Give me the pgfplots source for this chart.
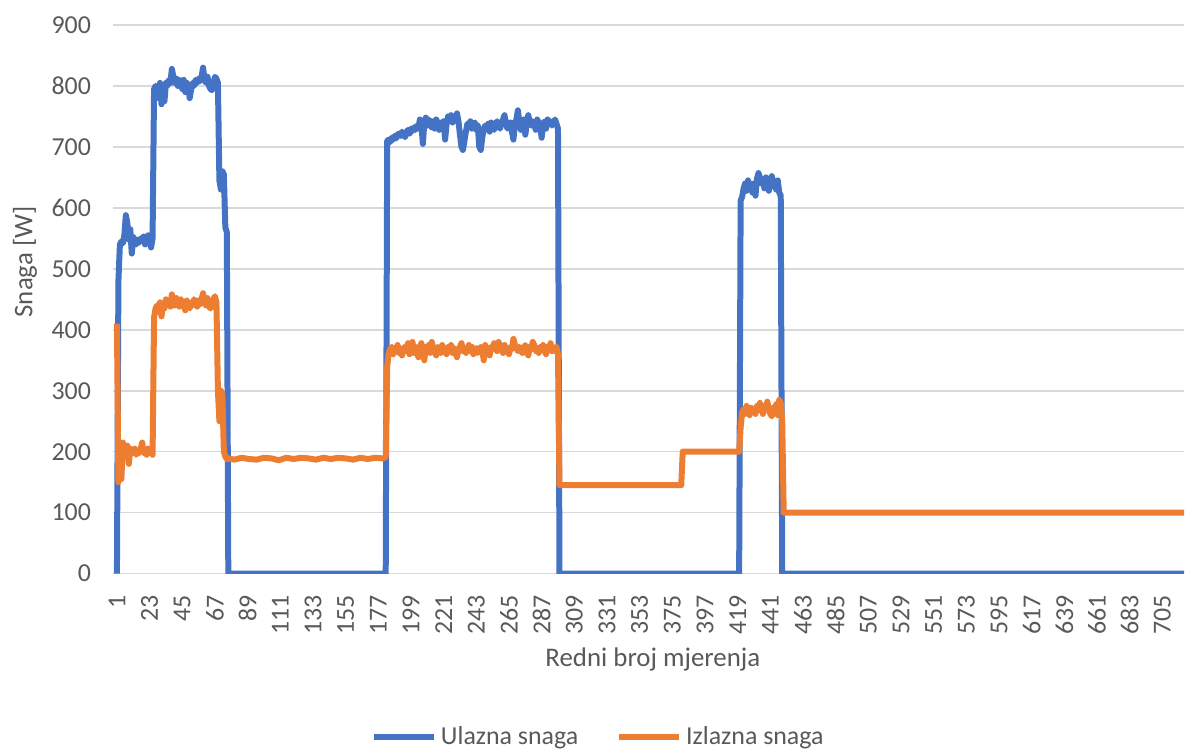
\documentclass[border=0pt]{standalone}
\usepackage{fontspec}
\setmainfont{Carlito}
\usepackage{pgfplots}
\pgfplotsset{compat=1.18}

\definecolor{ulazblue}{RGB}{68,114,196}
\definecolor{izlazorange}{RGB}{237,125,49}
\definecolor{gridgray}{RGB}{217,217,217}
\definecolor{textgray}{RGB}{89,89,89}

\begin{document}
\begin{tikzpicture}
\begin{axis}[
  scale only axis,
  width=536bp, height=274.5bp,
  xmin=-1.7, xmax=719.7,
  ymin=0, ymax=900,
  xtick={1,23,...,705},
  ytick={0,100,...,900},
  ymajorgrids,
  grid style={gridgray, line width=0.8bp},
  axis line style={draw=none},
  major tick length=0pt,
  /pgf/number format/assume math mode=true,
  tick label style={font=\fontsize{13}{15}\selectfont, text=textgray},
  yticklabel style={xshift=-7.5bp},
  xticklabel style={rotate=90, anchor=east, xshift=-7.5bp},
  xlabel={Redni broj mjerenja},
  ylabel={Snaga [W]},
  label style={font=\fontsize{13.5}{16}\selectfont, text=textgray},
  xlabel style={at={(axis description cs:0.504,-0.157)}, anchor=center},
  ylabel style={at={(axis description cs:-0.082,0.568)}, anchor=center},
  legend columns=2,
  legend style={at={(axis description cs:0.454,-0.297)}, anchor=center,
    draw=none, fill=none, font=\fontsize{13}{15}\selectfont, text=textgray,
    /tikz/every even column/.append style={column sep=17bp}},
  legend image code/.code={\draw[#1] (0bp,0bp) -- (30bp,0bp);},
  every axis plot/.append style={line width=3bp, line join=round, mark=none},
]
% Ulazna snaga
\addplot[ulazblue] table[row sep=\\] {
x y\\
1 0\\ 2 480\\ 3 540\\ 4 545\\ 5 542\\ 6 555\\ 7 588\\ 8 575\\ 9 548\\ 10 565\\
11 525\\ 12 552\\ 13 545\\ 14 540\\ 15 548\\ 16 543\\ 17 550\\ 18 545\\ 19 553\\ 20 540\\
21 548\\ 22 555\\ 23 545\\ 24 535\\ 25 550\\ 26 795\\ 27 800\\ 28 795\\ 29 780\\ 30 805\\
31 770\\ 32 790\\ 33 775\\ 34 805\\ 35 800\\ 36 810\\ 37 805\\ 38 828\\ 39 815\\ 40 805\\
41 812\\ 42 800\\ 43 810\\ 44 808\\ 45 795\\ 46 810\\ 47 790\\ 48 805\\ 49 800\\ 50 780\\
51 795\\ 52 805\\ 53 800\\ 54 810\\ 55 805\\ 56 812\\ 57 808\\ 58 815\\ 59 830\\ 60 810\\
61 805\\ 62 815\\ 63 800\\ 64 795\\ 65 793\\ 66 805\\ 67 815\\ 68 812\\ 69 805\\ 70 645\\
71 630\\ 72 660\\ 73 655\\ 74 568\\ 75 560\\ 76 0\\ 182 0\\
183 710\\ 184 712\\ 185 708\\ 186 715\\ 187 712\\ 188 718\\ 189 714\\ 190 720\\
191 722\\ 192 718\\ 193 725\\ 194 720\\ 195 716\\ 196 724\\ 197 728\\ 198 722\\ 199 730\\
200 726\\ 201 732\\ 202 728\\ 203 735\\ 204 730\\ 205 745\\ 206 738\\ 207 705\\
208 740\\ 209 748\\ 210 735\\ 211 745\\ 212 740\\ 213 732\\
214 742\\ 215 730\\ 216 745\\ 217 738\\ 218 728\\ 219 740\\ 220 735\\ 221 742\\ 222 712\\
223 738\\ 224 750\\ 225 745\\ 226 752\\ 227 740\\ 228 748\\ 229 745\\ 230 755\\ 231 742\\
232 720\\ 233 700\\ 234 695\\ 235 710\\ 236 725\\
237 738\\ 238 735\\ 239 742\\ 240 730\\ 241 738\\ 242 740\\ 243 728\\ 244 735\\
245 700\\ 246 695\\ 247 715\\ 248 730\\
249 735\\ 250 730\\ 251 738\\ 252 725\\ 253 740\\ 254 732\\ 255 728\\ 256 738\\ 257 742\\ 258 735\\ 259 730\\ 260 740\\
261 745\\ 262 752\\ 263 738\\ 264 730\\
265 735\\ 266 740\\ 267 725\\ 268 712\\ 269 738\\ 270 745\\
271 760\\ 272 740\\ 273 728\\ 274 735\\ 275 745\\
276 720\\ 277 738\\ 278 752\\ 279 740\\
280 735\\ 281 742\\ 282 738\\ 283 728\\ 284 745\\ 285 740\\ 286 735\\ 287 715\\ 288 738\\ 289 742\\ 290 730\\
291 745\\ 292 738\\ 293 742\\ 294 735\\ 295 740\\ 296 745\\ 297 738\\ 298 730\\
299 0\\ 420 0\\
421 612\\ 422 618\\ 423 632\\ 424 640\\ 425 628\\ 426 645\\ 427 638\\ 428 632\\ 429 625\\ 430 640\\
431 620\\ 432 648\\ 433 657\\ 434 650\\ 435 640\\ 436 646\\ 437 632\\ 438 650\\ 439 642\\ 440 628\\
441 645\\ 442 652\\ 443 640\\ 444 635\\ 445 630\\ 446 645\\ 447 625\\ 448 620\\
449 0\\ 720 0\\
};
\addlegendentry{Ulazna snaga}
% Izlazna snaga
\addplot[izlazorange] table[row sep=\\] {
x y\\
1 410\\ 2 150\\ 3 212\\ 4 155\\ 5 215\\ 6 200\\ 7 205\\ 8 210\\ 9 180\\ 10 205\\
11 200\\ 12 198\\ 13 205\\ 14 195\\ 15 200\\ 16 198\\ 17 205\\ 18 215\\ 19 198\\ 20 202\\
21 195\\ 22 205\\ 23 198\\ 24 200\\ 25 195\\ 26 420\\ 27 435\\ 28 440\\ 29 430\\ 30 445\\
31 422\\ 32 440\\ 33 435\\ 34 450\\ 35 440\\ 36 445\\ 37 438\\ 38 458\\ 39 448\\ 40 440\\
41 452\\ 42 445\\ 43 438\\ 44 450\\ 45 440\\ 46 445\\ 47 432\\ 48 448\\ 49 440\\ 50 435\\
51 445\\ 52 440\\ 53 450\\ 54 445\\ 55 438\\ 56 448\\ 57 442\\ 58 450\\ 59 460\\ 60 445\\
61 440\\ 62 452\\ 63 438\\ 64 435\\ 65 440\\ 66 450\\ 67 455\\ 68 445\\ 69 300\\ 70 250\\
71 300\\ 72 295\\ 73 200\\ 74 192\\ 75 188\\ 76 189\\
80 187\\ 85 190\\ 90 188\\ 95 187\\ 100 190\\ 105 189\\ 110 186\\ 115 190\\ 120 188\\ 125 190\\
130 189\\ 135 187\\ 140 190\\ 145 188\\ 150 190\\ 155 189\\ 160 187\\ 165 190\\ 170 188\\ 175 190\\
180 189\\ 182 191\\ 183 340\\ 184 362\\
185 368\\ 186 372\\ 187 360\\ 188 370\\ 189 365\\ 190 375\\ 191 362\\ 192 368\\ 193 358\\ 194 370\\
195 372\\ 196 365\\ 197 378\\ 198 360\\ 199 368\\ 200 380\\ 201 362\\ 202 372\\ 203 365\\ 204 355\\
205 370\\ 206 378\\ 207 365\\ 208 350\\ 209 372\\ 210 368\\ 211 375\\ 212 362\\ 213 380\\ 214 370\\
215 365\\ 216 358\\ 217 372\\ 218 368\\ 219 362\\ 220 375\\ 221 370\\ 222 365\\ 223 360\\ 224 372\\
225 368\\ 226 375\\ 227 362\\ 228 370\\ 229 365\\ 230 355\\ 231 368\\ 232 372\\ 233 378\\ 234 365\\
235 370\\ 236 362\\ 237 368\\ 238 375\\ 239 365\\ 240 372\\ 241 360\\ 242 368\\ 243 370\\ 244 362\\
245 365\\ 246 372\\ 247 368\\ 248 350\\ 249 375\\ 250 370\\ 251 365\\ 252 358\\ 253 372\\ 254 368\\
255 378\\ 256 370\\ 257 365\\ 258 380\\ 259 372\\ 260 368\\ 261 362\\ 262 375\\ 263 370\\ 264 365\\
265 360\\ 266 372\\ 267 368\\ 268 385\\ 269 375\\ 270 370\\ 271 365\\ 272 372\\ 273 368\\ 274 362\\
275 370\\ 276 375\\ 277 365\\ 278 358\\ 279 372\\ 280 368\\ 281 380\\ 282 375\\ 283 365\\ 284 370\\
285 362\\ 286 372\\ 287 368\\ 288 375\\ 289 365\\ 290 360\\ 291 372\\ 292 368\\ 293 378\\ 294 365\\
295 370\\ 296 365\\ 297 372\\ 298 360\\
299 145\\ 381 145\\ 382 200\\ 420 200\\
421 240\\ 422 265\\ 423 270\\ 424 262\\ 425 275\\ 426 268\\ 427 260\\ 428 272\\ 429 265\\ 430 270\\
431 262\\ 432 275\\ 433 268\\ 434 280\\ 435 270\\ 436 262\\ 437 275\\ 438 268\\ 439 282\\ 440 270\\
441 262\\ 442 258\\ 443 272\\ 444 265\\ 445 278\\ 446 260\\ 447 285\\ 448 280\\
449 250\\ 450 100\\ 720 100\\
};
\addlegendentry{Izlazna snaga}
\end{axis}
\path[use as bounding box] (-56.5bp,-87.5bp) rectangle (536bp,287bp);
\end{tikzpicture}
\end{document}
